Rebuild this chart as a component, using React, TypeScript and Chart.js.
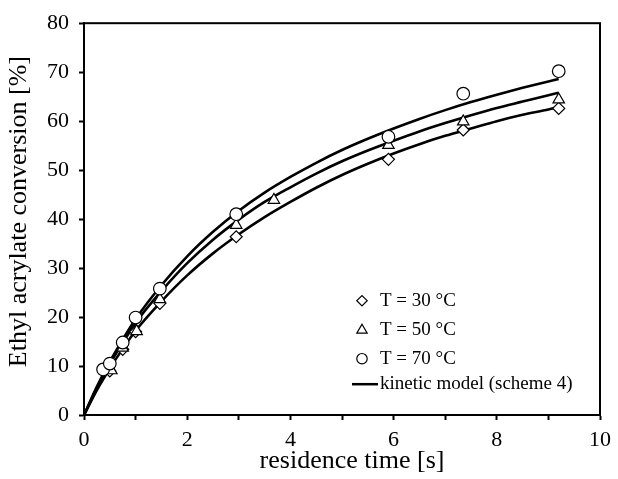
import React, { useEffect, useRef } from 'react';
import { Chart, registerables } from 'chart.js';

Chart.register(...registerables);

const FONT = '"Liberation Serif", "Times New Roman", Times, serif';

// Measured data (residence time [s], conversion [%])
const timeT30 = [0.5, 0.75, 1.0, 1.47, 2.95, 5.9, 7.35, 9.2];
const convT30 = [9.0, 13.4, 17.0, 22.8, 36.4, 52.2, 58.2, 62.6];
const timeT50 = [0.53, 0.75, 1.02, 1.47, 2.95, 3.68, 5.9, 7.35, 9.2];
const convT50 = [9.1, 13.7, 17.1, 23.6, 38.8, 43.9, 55.1, 59.9, 64.4];
const timeT70 = [0.37, 0.5, 0.75, 1.0, 1.47, 2.95, 5.9, 7.35, 9.2];
const convT70 = [9.3, 10.5, 14.8, 19.9, 25.8, 41.0, 56.8, 65.6, 70.2];

// Kinetic model curves
const modelTime = [0, 0.25, 0.5, 0.75, 1, 1.5, 2, 2.5, 3, 3.5, 4, 4.5, 5, 5.5, 6, 6.5, 7, 7.5, 8, 8.5, 9, 9.2];
const model30 = [0, 5.1, 9.5, 13.5, 17.2, 23.2, 28.5, 33.0, 36.9, 40.4, 43.5, 46.4, 49.0, 51.3, 53.4, 55.3, 57.0, 58.5, 60.0, 61.3, 62.4, 62.9];
const model50 = [0, 5.5, 10.4, 14.7, 18.8, 25.3, 31.0, 35.8, 39.9, 43.5, 46.5, 49.3, 51.8, 54.0, 56.0, 57.9, 59.6, 61.2, 62.7, 64.0, 65.3, 65.8];
const model70 = [0, 5.8, 10.9, 15.4, 19.6, 26.5, 32.4, 37.4, 41.7, 45.4, 48.6, 51.5, 54.1, 56.4, 58.5, 60.45, 62.25, 63.9, 65.4, 66.8, 68.1, 68.6];

const xTickValues = [0, 1, 2, 3, 4, 5, 6, 7, 8, 9, 10];
const xLabelValues = [0, 2, 4, 6, 8, 10];
const yTickValues = [0, 10, 20, 30, 40, 50, 60, 70, 80];

const legendLabels = ['T = 30 °C', 'T = 50 °C', 'T = 70 °C', 'kinetic model (scheme 4)'];
const legendStyles = ['rectRot', 'triangle', 'circle', 'line'];

const xTitle = 'residence time [s]';
const yTitle = 'Ethyl acrylate conversion [%]';

const toPts = (xs: number[], ys: number[]) => xs.map((x, i) => ({ x, y: ys[i] }));

function drawMarker(ctx: CanvasRenderingContext2D, style: string, x: number, y: number, r: number) {
  ctx.beginPath();
  if (style === 'circle') {
    ctx.arc(x, y, r, 0, Math.PI * 2);
  } else if (style === 'triangle') {
    for (let k = 0; k < 3; k++) {
      const a = (k * 2 * Math.PI) / 3;
      const px = x + Math.sin(a) * r;
      const py = y - Math.cos(a) * r;
      if (k === 0) ctx.moveTo(px, py);
      else ctx.lineTo(px, py);
    }
    ctx.closePath();
  } else {
    ctx.moveTo(x - r, y);
    ctx.lineTo(x, y - r);
    ctx.lineTo(x + r, y);
    ctx.lineTo(x, y + r);
    ctx.closePath();
  }
  ctx.fillStyle = '#fff';
  ctx.fill();
  ctx.stroke();
}

const framePlugin = {
  id: 'frameAndLegend',
  afterDraw(chart: any) {
    const { ctx, chartArea } = chart;
    const { left, top, right, bottom } = chartArea;
    ctx.save();
    ctx.strokeStyle = '#000';
    ctx.lineWidth = 2;
    ctx.strokeRect(left, top, right - left, bottom - top);

    // axis titles
    ctx.fillStyle = '#000';
    ctx.font = `26px ${FONT}`;
    ctx.textAlign = 'center';
    ctx.textBaseline = 'middle';
    ctx.fillText(xTitle, (left + right) / 2 + 10, bottom + 46.2);
    ctx.save();
    ctx.translate(19.2, (top + bottom) / 2 - 7.5);
    ctx.rotate(-Math.PI / 2);
    ctx.fillText(yTitle, 0, 0);
    ctx.restore();

    // legend
    const rows = [277.5, 307, 335.5, 361];
    const markerX = left + 278;
    const textX = left + 296;
    ctx.font = `19px ${FONT}`;
    ctx.textBaseline = 'middle';
    ctx.textAlign = 'left';
    legendLabels.forEach((label, i) => {
      const y = top + rows[i];
      const style = legendStyles[i];
      ctx.strokeStyle = '#000';
      if (style === 'line') {
        ctx.lineWidth = 2.5;
        ctx.beginPath();
        ctx.moveTo(left + 268, y);
        ctx.lineTo(left + 294, y);
        ctx.stroke();
      } else {
        ctx.lineWidth = 1.2;
        drawMarker(ctx, style, markerX, y, style === 'circle' ? 5.2 : style === 'triangle' ? 6 : 5.2);
      }
      ctx.fillStyle = '#000';
      ctx.fillText(label, textX, y);
    });
    ctx.restore();
  },
};

export default function App() {
  const canvasRef = useRef<HTMLCanvasElement | null>(null);

  useEffect(() => {
    document.body.style.margin = '0';
    const canvas = canvasRef.current;
    if (!canvas) return;

    const markerCommon = {
      showLine: false,
      backgroundColor: '#ffffff',
      borderColor: '#000000',
      pointBorderWidth: 1.2,
      pointBackgroundColor: '#ffffff',
      pointBorderColor: '#000000',
    };
    const lineCommon = {
      showLine: true,
      borderColor: '#000000',
      borderWidth: 2.6,
      pointRadius: 0,
      pointHoverRadius: 0,
      cubicInterpolationMode: 'monotone' as const,
      fill: false,
    };

    const chart = new Chart(canvas, {
      type: 'scatter',
      data: {
        datasets: [
          { ...markerCommon, label: legendLabels[2], data: toPts(timeT70, convT70), pointStyle: 'circle', pointRadius: 6.3 },
          { ...markerCommon, label: legendLabels[1], data: toPts(timeT50, convT50), pointStyle: 'triangle', pointRadius: 6.6 },
          { ...markerCommon, label: legendLabels[0], data: toPts(timeT30, convT30), pointStyle: 'rectRot', pointRadius: 6 },
          { ...lineCommon, label: 'model 70', data: toPts(modelTime, model70) },
          { ...lineCommon, label: 'model 50', data: toPts(modelTime, model50) },
          { ...lineCommon, label: 'model 30', data: toPts(modelTime, model30) },
        ],
      },
      options: {
        animation: false,
        responsive: true,
        maintainAspectRatio: false,
        layout: { padding: { top: 23, right: 14, left: 0, bottom: 0 } },
        plugins: {
          legend: { display: false },
          tooltip: { enabled: false },
        },
        scales: {
          x: {
            type: 'linear',
            min: 0,
            max: 10,
            afterBuildTicks: (scale: any) => {
              scale.ticks = xTickValues.map((v) => ({ value: v }));
            },
            afterFit: (scale: any) => {
              scale.height = 64;
            },
            grid: {
              drawOnChartArea: false,
              drawTicks: true,
              tickLength: 5,
              tickWidth: 2,
              tickColor: '#000',
              color: '#000',
            },
            border: { display: true, color: '#000', width: 2 },
            ticks: {
              color: '#000',
              font: { family: FONT, size: 22 },
              padding: 7,
              maxRotation: 0,
              autoSkip: false,
              callback: (v: any) => (xLabelValues.includes(Number(v)) ? String(v) : ''),
            },
            title: { display: false, text: xTitle },
          },
          y: {
            type: 'linear',
            min: 0,
            max: 80,
            afterBuildTicks: (scale: any) => {
              scale.ticks = yTickValues.map((v) => ({ value: v }));
            },
            afterFit: (scale: any) => {
              scale.width = 84;
            },
            grid: {
              drawOnChartArea: false,
              drawTicks: true,
              tickLength: 5,
              tickWidth: 2,
              tickColor: '#000',
              color: '#000',
            },
            border: { display: true, color: '#000', width: 2 },
            ticks: {
              color: '#000',
              font: { family: FONT, size: 22 },
              padding: 10,
              callback: (v: any) => String(v),
            },
            title: { display: false, text: yTitle },
          },
        },
      },
      plugins: [framePlugin],
    });

    return () => chart.destroy();
  }, []);

  return (
    <div style={{ position: 'absolute', left: 0, top: 0, width: 618, height: 479, background: '#fff' }}>
      <canvas ref={canvasRef} />
    </div>
  );
}
